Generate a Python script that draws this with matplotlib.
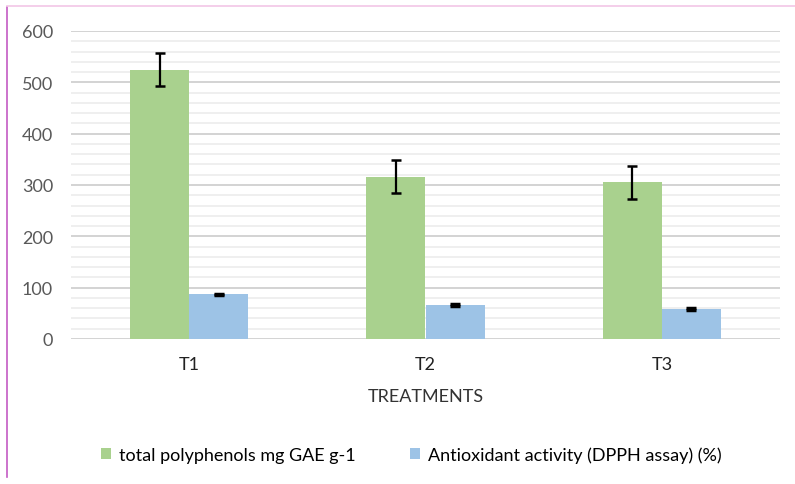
import numpy as np
import matplotlib.pyplot as plt
from matplotlib.ticker import MultipleLocator

plt.rcParams['font.family'] = ['Lato', 'DejaVu Sans']

# data to plot
treatments = ['T1', 'T2', 'T3']
polyphenols = [525, 316, 305]
polyphenols_err = [32, 32, 32]
antioxidant = [87, 66, 58]
antioxidant_err = [1.5, 1.5, 1.5]

green = '#A9D18E'
blue = '#9DC3E6'

fig = plt.figure(figsize=(7.95, 4.85), dpi=100)
ax = fig.add_axes([71 / 795, 1 - 340 / 485, 709 / 795, 308 / 485])

index = np.arange(len(treatments))
bar_width = 0.25

ax.bar(index - bar_width / 2, polyphenols, bar_width, color=green,
       label='total polyphenols mg GAE g-1', zorder=3)
ax.bar(index + bar_width / 2, antioxidant, bar_width, color=blue,
       label='Antioxidant activity (DPPH assay) (%)', zorder=3)
ax.errorbar(index - bar_width / 2, polyphenols, yerr=polyphenols_err,
            fmt='none', ecolor='black', elinewidth=1.6, capsize=3.8,
            capthick=1.8, zorder=4)
ax.errorbar(index + bar_width / 2, antioxidant, yerr=antioxidant_err,
            fmt='none', ecolor='black', elinewidth=1.6, capsize=3.8,
            capthick=2.5, zorder=4)

ax.set_xlim(-0.5, 2.5)
ax.set_ylim(0, 600)
ax.yaxis.set_major_locator(MultipleLocator(100))
ax.yaxis.set_minor_locator(MultipleLocator(20))
ax.grid(axis='y', which='major', color='#D0D0D0', linewidth=1.3, zorder=0)
ax.grid(axis='y', which='minor', color='#EEEEEE', linewidth=1.3, zorder=0)
for s in ax.spines.values():
    s.set_visible(False)
ax.tick_params(axis='both', which='both', length=0)
ax.tick_params(axis='y', labelsize=13, labelcolor='#595959', pad=13)
ax.tick_params(axis='x', labelsize=13, labelcolor='#222222', pad=12)
ax.set_xticks(index)
ax.set_xticklabels(treatments)
ax.set_xlabel('TREATMENTS', fontsize=13, color='#333333', labelpad=12)

ax.legend(loc='center', bbox_to_anchor=(0.48, -0.375), ncol=2,
          frameon=False, fontsize=13, handlelength=0.55, handleheight=0.55,
          columnspacing=3.0, handletextpad=0.45)

# frame lines around the chart
fig.add_artist(plt.Line2D([7 / 795, 7 / 795], [1 - 8 / 485, 1 - 478 / 485],
                          color='#C45BC4', linewidth=1.2))
fig.add_artist(plt.Line2D([7 / 795, 1], [1 - 7 / 485, 1 - 7 / 485],
                          color='#F2C6E6', linewidth=1.2))

fig.savefig('out.png', dpi=100)
